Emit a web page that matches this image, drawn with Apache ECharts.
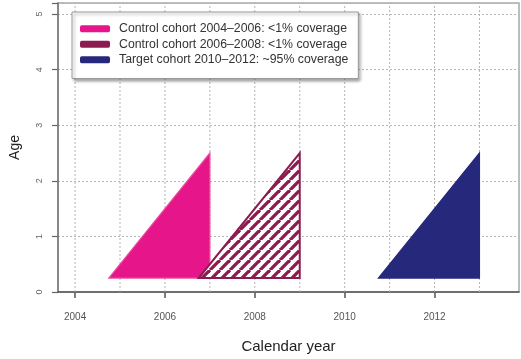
<!DOCTYPE html>
<html><head><meta charset="utf-8">
<script src="https://cdn.jsdelivr.net/npm/echarts@6/dist/echarts.min.js"></script>
<style>html,body{margin:0;padding:0;background:#fff}#c{width:521px;height:359px}</style>
</head><body><div id="c"></div>
<script>
var cohortNames = ['Control cohort 2004\u20132006: <1% coverage','Control cohort 2006\u20132008: <1% coverage','Target cohort 2010\u20132012: ~95% coverage'];
var cohortStart = [2004.75, 2006.75, 2010.75];
var cohortEnd = [2007, 2009, 2013];
var ageLow = [0.25, 0.25, 0.25];
var ageHigh = [2.5, 2.5, 2.5];
var xTickLabels = [2004, 2006, 2008, 2010, 2012];
var gridYears = [2004, 2005, 2006, 2007, 2008, 2009, 2010, 2011, 2012, 2013];

var colors = ['#e6168a', '#8c1c50', '#26287c'];

var T = 10;
var cv = document.createElement('canvas');
cv.width = T; cv.height = T;
var cx = cv.getContext('2d');
cx.fillStyle = '#fff'; cx.fillRect(0,0,T,T);
cx.strokeStyle = '#8c1c50'; cx.lineWidth = 3.3;
for (var k = -1; k <= 1; k++) { cx.beginPath(); cx.moveTo(k*T, T); cx.lineTo(k*T+T, 0); cx.stroke(); }
var hatch = {image: cv, repeat: 'repeat'};

var fills = [colors[0], hatch, colors[2]];
var strokes = ['#ea4d9e', colors[1], colors[2]];

var chart = echarts.init(document.getElementById('c'), null, {renderer: 'canvas'});
var series = [{
  type: 'custom', silent: true, z: 1,
  data: gridYears.map(function (y) { return [y]; }),
  renderItem: function (params, api) {
    var a = api.coord([api.value(0), 0]);
    var b = api.coord([api.value(0), 5.2]);
    return {type: 'line', shape: {x1: a[0], y1: a[1], x2: b[0], y2: b[1]},
      style: {stroke: '#b5b5b5', lineWidth: 1, lineDash: [2, 2]}};
  }
}];
cohortNames.forEach(function (name, i) {
  series.push({
    type: 'custom', name: name, z: 5,
    itemStyle: {color: colors[i]},
    data: [[cohortStart[i], cohortEnd[i], ageLow[i], ageHigh[i]]],
    renderItem: function (params, api) {
      var p1 = api.coord([api.value(0), api.value(2)]);
      var p2 = api.coord([api.value(1), api.value(2)]);
      var p3 = api.coord([api.value(1), api.value(3)]);
      return {type: 'polygon', shape: {points: [p1, p2, p3]},
        style: {fill: fills[i], stroke: strokes[i], lineWidth: i === 1 ? 2 : 1.2}};
    }
  });
});

chart.setOption({
  animation: false,
  grid: {left: 55, right: 2, top: 2, bottom: 61, show: true, borderColor: '#a8a8a8', borderWidth: 1.5, backgroundColor: 'transparent'},
  legend: {
    orient: 'vertical', left: 72, top: 12,
    padding: [10, 10, 12, 8], itemGap: 2, itemWidth: 30, itemHeight: 7, icon: 'roundRect',
    backgroundColor: '#fff', borderColor: '#9a9a9a', borderWidth: 1,
    shadowBlur: 3, shadowColor: 'rgba(0,0,0,0.35)', shadowOffsetX: 2, shadowOffsetY: 2,
    textStyle: {fontFamily: 'Liberation Sans', fontSize: 12.3, lineHeight: 13.5, color: '#333', padding: [0,0,0,4]},
    data: cohortNames.map(function (n, i) { return {name: n, itemStyle: {color: colors[i]}}; })
  },
  xAxis: {
    type: 'value', min: 2003.62, max: 2013.88,
    name: 'Calendar year', nameLocation: 'middle', nameGap: 47,
    nameTextStyle: {fontFamily: 'Liberation Sans', fontSize: 15, color: '#222'},
    axisLine: {show: true, onZero: false, lineStyle: {color: '#555', width: 1.5}},
    axisTick: {show: true, length: 6, customValues: xTickLabels, lineStyle: {color: '#555', width: 1.5}},
    axisLabel: {customValues: xTickLabels, margin: 20, fontFamily: 'Liberation Sans', fontSize: 10, color: '#555',
      formatter: function (v) { return String(v); }},
    splitLine: {show: false}
  },
  yAxis: {
    type: 'value', min: 0, max: 5.2, interval: 1,
    name: 'Age', nameLocation: 'middle', nameGap: 36, nameRotate: 90,
    nameTextStyle: {fontFamily: 'Liberation Sans', fontSize: 14, color: '#222'},
    axisLine: {show: true, lineStyle: {color: '#777', width: 1.5}},
    axisTick: {show: true, length: 6, lineStyle: {color: '#666', width: 1.2}},
    axisLabel: {rotate: 90, margin: 14, fontFamily: 'Liberation Sans', fontSize: 9, color: '#666',
      formatter: function (v) { return v > 5 ? '' : String(v); }},
    splitLine: {show: true, lineStyle: {type: [2, 2], color: '#b5b5b5', width: 1}}
  },
  series: series
});
</script>
</body></html>
